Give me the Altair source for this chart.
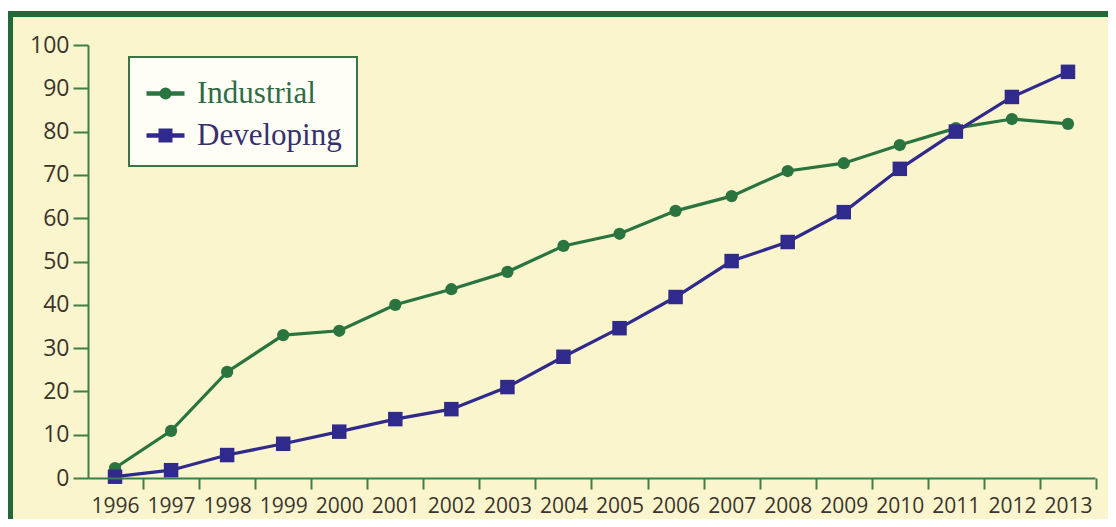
import altair as alt
import pandas as pd

# ---- data ----
years = list(range(1996, 2014))
industrial = [2.3, 10.9, 24.5, 33.0, 34.0, 40.0, 43.6, 47.6, 53.6, 56.4,
              61.7, 65.1, 70.9, 72.7, 76.9, 80.8, 82.9, 81.8]
developing = [0.3, 1.8, 5.3, 7.9, 10.7, 13.6, 15.9, 21.0, 28.0, 34.6,
              41.8, 50.1, 54.5, 61.4, 71.4, 80.0, 88.0, 93.8]
series_names = ["Industrial", "Developing"]
series_colors = ["#2A7440", "#2F2A8C"]
label_colors = ["#2F6B45", "#35306E"]
y_ticks = list(range(0, 101, 10))

BG = "#FBF5CE"
FRAME = "#1F6A38"
AXIS = "#3F7C48"
LABEL = "#3A342A"

df = pd.DataFrame({
    "year": years * 2,
    "value": industrial + developing,
    "series": [series_names[0]] * len(years) + [series_names[1]] * len(years),
})

PATH_C = "M-1,0L1,0M-0.2,0A0.2,0.2,0,1,0,0.2,0A0.2,0.2,0,1,0,-0.2,0Z"
PATH_S = "M-1,0L1,0M-0.25,-0.25L0.25,-0.25L0.25,0.25L-0.25,0.25Z"
is_ind = "datum.value === 'Industrial'"

def pick(a, b):
    return {"expr": f"{is_ind} ? '{a}' : '{b}'"}

legend = alt.Legend(
    orient="none", legendX=41, legendY=12, title=None,
    fillColor="#FFFEF6", strokeColor="#3A7445",
    padding=15, rowPadding=5, symbolSize=1444, symbolStrokeWidth=4.5,
    symbolType=pick(PATH_C, PATH_S),
    symbolFillColor=pick(*series_colors),
    symbolStrokeColor=pick(*series_colors),
    symbolOpacity=1,
    labelFont="Liberation Serif", labelFontSize=31, labelOffset=10,
    labelColor=pick(*label_colors),
)

x_enc = alt.X(
    "year:Q",
    scale=alt.Scale(domain=[1995.518, 2013.482], nice=False, zero=False),
    axis=alt.Axis(values=years, format="d", title=None, grid=False, zindex=1,
                  tickOffset=28, labelOffset=-28, tickSize=11, labelPadding=6,
                  labelFont="Open Sans", labelFontSize=21, labelColor=LABEL,
                  domainColor=AXIS, tickColor=AXIS, domainWidth=2, tickWidth=2,
                  labelFlush=False, labelOverlap=False, labelBound=False),
)
y_enc = alt.Y(
    "value:Q",
    scale=alt.Scale(domain=[0, 100], nice=False),
    axis=alt.Axis(values=y_ticks, title=None, grid=False, zindex=1,
                  tickSize=15, labelPadding=4,
                  labelFont="Open Sans", labelFontSize=23, labelColor=LABEL,
                  domainColor=AXIS, tickColor=AXIS, domainWidth=2, tickWidth=2,
                  labelFlush=False, labelOverlap=False),
)
color_scale = alt.Scale(domain=series_names, range=series_colors)

frame = alt.Chart(pd.DataFrame({"k": [0]})).mark_rect(
    fill=BG, stroke=FRAME, strokeWidth=6
).encode(
    x=alt.value(-78), x2=alt.value(1100), y=alt.value(-31), y2=alt.value(520)
)

lines = alt.Chart(df).mark_line(strokeWidth=3.2).encode(
    x=x_enc, y=y_enc,
    color=alt.Color("series:N", scale=color_scale, legend=legend),
    detail="series:N",
)

circles = alt.Chart(df).transform_filter(
    alt.datum.series == series_names[0]
).mark_point(filled=True, opacity=1, shape="circle", size=150).encode(
    x=x_enc, y=y_enc,
    color=alt.Color("series:N", scale=color_scale, legend=None),
)

squares = alt.Chart(df).transform_filter(
    alt.datum.series == series_names[1]
).mark_point(filled=True, opacity=1, shape="square", size=210).encode(
    x=x_enc, y=y_enc,
    color=alt.Color("series:N", scale=color_scale, legend=None),
)

chart = alt.layer(frame, lines, circles, squares).properties(
    width=1007, height=433,
    padding={"left": 80, "top": 37, "right": 13, "bottom": 41},
    autosize=alt.AutoSizeParams(type="none"),
    background="white",
).configure_view(stroke=None).configure_legend(strokeWidth=2)

chart.save("out.html", embed_options={"renderer": "svg", "actions": False})
